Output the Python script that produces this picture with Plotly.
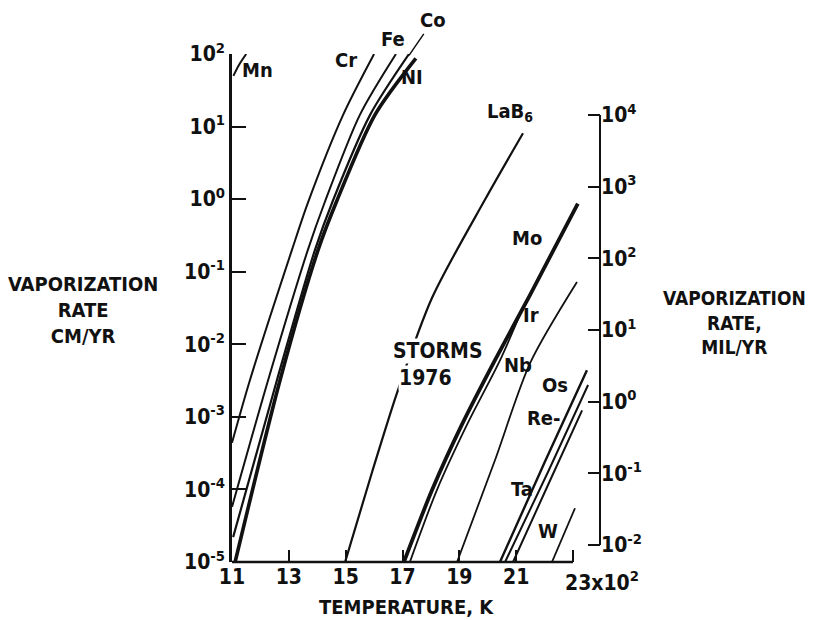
import plotly.graph_objects as go

# Temperature in units of 10^2 K, vaporization rate in cm/yr
MN_T = [11.05, 11.25, 11.5]
MN_V = [50, 71, 100]
CR_T = [11.0, 11.63, 13.11, 13.67, 14.91, 16.0]
CR_V = [4.4e-4, 3.2e-3, 0.20, 0.89, 14.5, 100]
FE_T = [11.0, 12.27, 13.67, 14.27, 15.50, 16.77]
FE_V = [5.75e-5, 3.2e-3, 0.20, 0.92, 14.5, 100]
CO_T = [11.04, 12.58, 13.92, 14.55, 15.86, 17.23]
CO_V = [2.2e-5, 3.2e-3, 0.20, 0.95, 14.5, 100]
NI_T = [11.11, 12.69, 14.03, 14.69, 16.03, 17.47]
NI_V = [1.0e-5, 3.2e-3, 0.20, 0.95, 14.5, 87]
LAB6_T = [14.98, 15.93, 16.84, 18.04, 19.90, 21.24]
LAB6_V = [1.0e-5, 1.74e-4, 2.34e-3, 4.37e-2, 0.98, 8.1]
MO_T = [17.05, 18.04, 19.09, 20.25, 21.49, 23.17]
MO_V = [1.0e-5, 9.8e-5, 7.8e-4, 6.0e-3, 4.8e-2, 0.87]
IR_T = [17.26, 18.21, 19.27, 20.43, 21.20]
IR_V = [1.0e-5, 9.8e-5, 7.8e-4, 6.0e-3, 2.95e-2]
NB_T = [18.92, 20.25, 21.49, 23.14]
NB_V = [1.0e-5, 2.5e-4, 5.5e-3, 7.2e-2]
OS_T = [20.43, 22.01, 23.49]
OS_V = [1.0e-5, 2.4e-4, 4.4e-3]
RE_T = [20.61, 22.12, 23.53]
RE_V = [1.0e-5, 1.74e-4, 2.75e-3]
TA_T = [20.89, 22.12, 23.32]
TA_V = [1.0e-5, 1.15e-4, 1.23e-3]
W_T = [22.26, 23.07]
W_V = [1.0e-5, 5.5e-5]

X_TICKS = [11, 13, 15, 17, 19, 21, 23]
X_TICKTEXT = ["11", "13", "15", "17", "19", "21", ""]
Y_TICKS = [1e-5, 1e-4, 1e-3, 1e-2, 1e-1, 1e0, 1e1, 1e2]
Y_TICKTEXT = ["10<sup>-5</sup>", "10<sup>-4</sup>", "10<sup>-3</sup>", "10<sup>-2</sup>",
              "10<sup>-1</sup>", "10<sup>0</sup>", "10<sup>1</sup>", "10<sup>2</sup>"]
Y2_TICKS = [1e-2, 1e-1, 1e0, 1e1, 1e2, 1e3, 1e4]
Y2_TICKTEXT = ["10<sup>-2</sup>", "10<sup>-1</sup>", "10<sup>0</sup>", "10<sup>1</sup>",
               "10<sup>2</sup>", "10<sup>3</sup>", "10<sup>4</sup>"]

FONT = "DejaVu Sans Condensed, Liberation Sans, sans-serif"
INK = "#111111"

series = [
    (MN_T, MN_V, 2.0), (CR_T, CR_V, 2.0), (FE_T, FE_V, 2.0), (CO_T, CO_V, 2.2),
    (NI_T, NI_V, 3.6), (LAB6_T, LAB6_V, 2.2), (MO_T, MO_V, 3.8), (IR_T, IR_V, 1.8),
    (NB_T, NB_V, 1.8), (OS_T, OS_V, 2.4), (RE_T, RE_V, 2.0), (TA_T, TA_V, 2.0),
    (W_T, W_V, 1.8),
]

fig = go.Figure()
for t, v, w in series:
    fig.add_trace(go.Scatter(x=t, y=v, mode="lines",
                             line=dict(color=INK, width=w, shape="spline", smoothing=0.8),
                             hoverinfo="skip", showlegend=False))
fig.add_trace(go.Scatter(x=[None], y=[None], yaxis="y2", showlegend=False, hoverinfo="skip"))

tickfont = dict(family=FONT, size=21, color=INK, weight="bold")

# page has an 8px body margin, so the figure is 8px smaller than the window
fig.update_layout(
    width=811, height=612,
    margin=dict(l=224, r=219, t=46, b=58),
    plot_bgcolor="white", paper_bgcolor="white",
    showlegend=False,
    xaxis=dict(range=[11, 23.95], tickvals=X_TICKS, ticktext=X_TICKTEXT,
               ticks="inside", ticklen=12, tickwidth=2, tickcolor=INK,
               showgrid=False, zeroline=False, showline=False, tickfont=tickfont),
    yaxis=dict(type="log", range=[-5, 2], tickvals=Y_TICKS, ticktext=Y_TICKTEXT,
               ticks="inside", ticklen=14, tickwidth=2, tickcolor=INK,
               showline=True, linewidth=2.5, linecolor=INK,
               showgrid=False, zeroline=False, tickfont=tickfont),
    yaxis2=dict(type="log", overlaying="y", side="right", anchor="x",
                range=[-2.237, 4.851], tickvals=Y2_TICKS, ticktext=Y2_TICKTEXT,
                ticks="inside", ticklen=12, tickwidth=2, tickcolor=INK,
                showline=False, showgrid=False, zeroline=False, tickfont=tickfont),
)

fig.add_shape(type="line", xref="x", yref="paper", x0=11, x1=23, y0=0, y1=0,
              line=dict(color=INK, width=2.5))
fig.add_shape(type="line", xref="paper", yref="y2", x0=1, x1=1, y0=1e-2, y1=1e4,
              line=dict(color=INK, width=2))

lab = dict(family=FONT, size=20, color=INK, weight="bold")
labels = [
    ("Mn", 11.91, 1.78), ("Cr", 15.01, 1.92), ("NI", 17.33, 1.68),
    ("LaB<sub>6</sub>", 20.78, 1.20), ("Mo", 21.38, -0.54), ("Ir", 21.52, -1.60),
    ("Nb", 21.06, -2.29), ("Os", 22.37, -2.56), ("Re-", 21.98, -3.02),
    ("Ta", 21.20, -4.0), ("W", 22.12, -4.57),
]
for txt, x, y in labels:
    fig.add_annotation(text=txt, x=x, y=y, xref="x", yref="y", showarrow=False,
                       xanchor="center", yanchor="middle", font=lab)

fig.add_annotation(text="Fe", x=16.66, y=1.0295, xref="x", yref="paper", showarrow=False,
                   xanchor="center", yanchor="middle", font=lab)
fig.add_annotation(text="Co", x=17.23, y=1.98, xref="x", yref="y", showarrow=True,
                   arrowhead=0, arrowwidth=1.5, arrowcolor=INK, ax=24, ay=-35,
                   font=lab)
big = dict(family=FONT, size=21, color=INK, weight="bold")
fig.add_annotation(text="STORMS", x=18.25, y=-2.09, xref="x", yref="y", showarrow=False,
                   xanchor="center", yanchor="middle", font=big, bgcolor="white", borderpad=0)
fig.add_annotation(text="1976", x=16.84, y=-2.46, xref="x", yref="y", showarrow=False,
                   xanchor="left", yanchor="middle", font=big, bgcolor="white", borderpad=0)
fig.add_annotation(text="23x10<sup>2</sup>", x=22.65, y=0, xref="x", yref="paper",
                   xanchor="left", yanchor="top", yshift=-3, showarrow=False, font=tickfont)

title_font = dict(family=FONT, size=20, color=INK, weight="bold")
fig.add_annotation(text="TEMPERATURE, K", x=0.4755, y=-0.0886, xref="paper", yref="paper",
                   xanchor="center", yanchor="middle", showarrow=False, font=title_font)
fig.add_annotation(text="VAPORIZATION<br>RATE<br>CM/YR", x=-0.405, y=0.496,
                   xref="paper", yref="paper", xanchor="center", yanchor="middle",
                   showarrow=False, font=title_font, align="center")
fig.add_annotation(text="VAPORIZATION<br>RATE,<br>MIL/YR", x=1.366, y=0.472,
                   xref="paper", yref="paper", xanchor="center", yanchor="middle",
                   showarrow=False, font=dict(family=FONT, size=19, color=INK, weight="bold"),
                   align="center")

fig.write_html("out.html")
